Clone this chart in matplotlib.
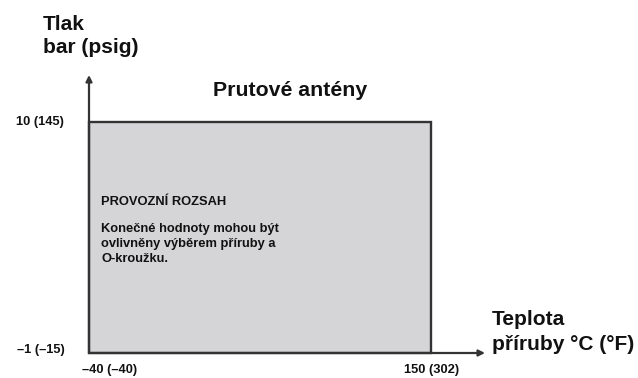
import matplotlib.pyplot as plt
from matplotlib.patches import Rectangle

# operating range of the rod antennas
temp_c = [-40, 150]
temp_f = [-40, 302]
press_bar = [-1, 10]
press_psig = [-15, 145]

title = "Prutové antény"
range_title = "PROVOZNÍ ROZSAH"
range_note = "Konečné hodnoty mohou být\novlivněny výběrem příruby a\nO-kroužku."

plt.rcParams['font.family'] = ['Liberation Sans', 'DejaVu Sans']
plt.rcParams['font.weight'] = 'bold'

W, H = 638, 378
fig = plt.figure(figsize=(W / 100, H / 100), dpi=100)
ax = fig.add_axes([0, 0, 1, 1])
ax.set_axis_off()

# pixel anchors of the box corners
x0px, x1px = 89, 431
y0px, y1px = 353, 122
sx = (x1px - x0px) / (temp_c[1] - temp_c[0])
sy = (y0px - y1px) / (press_bar[1] - press_bar[0])
ax.set_xlim(temp_c[0] - x0px / sx, temp_c[0] + (W - x0px) / sx)
ax.set_ylim(press_bar[0] - (H - y0px) / sy, press_bar[0] + y0px / sy)

edge = "#333333"
ink = "#111111"
ax.add_patch(Rectangle((temp_c[0], press_bar[0]), temp_c[1] - temp_c[0],
                       press_bar[1] - press_bar[0], facecolor="#d5d5d7",
                       edgecolor=edge, linewidth=1.7, zorder=1))

# axis arrows
arrow = dict(arrowstyle="-|>", color=edge, lw=1.6, mutation_scale=9,
             shrinkA=0, shrinkB=0)
ax.annotate("", xy=(temp_c[0], press_bar[0] + (y0px - 75) / sy),
            xytext=(temp_c[0], press_bar[0]), arrowprops=arrow, zorder=3)
ax.annotate("", xy=(temp_c[0] + (485 - x0px) / sx, press_bar[0]),
            xytext=(temp_c[0], press_bar[0]), arrowprops=arrow, zorder=3)

def lab(v, alt):
    return f"{v} ({alt})".replace("-", "\u2013")

# tick labels
for b, p, dy in zip(press_bar, press_psig, [2, 0]):
    ax.annotate(lab(b, p), (temp_c[0], b), xytext=(-35, dy),
                textcoords="offset points", ha="center", va="center",
                fontsize=9.3, color=ink)
for c, f, dx in zip(temp_c, temp_f, [15, 0.5]):
    ax.annotate(lab(c, f), (c, press_bar[0]), xytext=(dx, -12.5),
                textcoords="offset points", ha="center", va="center",
                fontsize=9.3, color=ink)

fig.text(43 / W, 1 - 15 / H, "Tlak\nbar (psig)", ha="left", va="top",
         fontsize=15, linespacing=1.28, color=ink)
fig.text(492 / W, 1 - 310 / H, "Teplota\npříruby °C (°F)", ha="left",
         va="top", fontsize=15, linespacing=1.4, color=ink)
fig.text(290 / W, 1 - 91 / H, title, ha="center", va="center",
         fontsize=15.3, color=ink)

fig.text(101 / W, 1 - 202 / H, range_title, ha="left", va="center",
         fontsize=9.3, color=ink)
fig.text(101 / W, 1 - 223 / H, range_note, ha="left", va="top",
         fontsize=9.3, linespacing=1.35, color=ink)

fig.savefig("out.png", dpi=100, facecolor="white")
